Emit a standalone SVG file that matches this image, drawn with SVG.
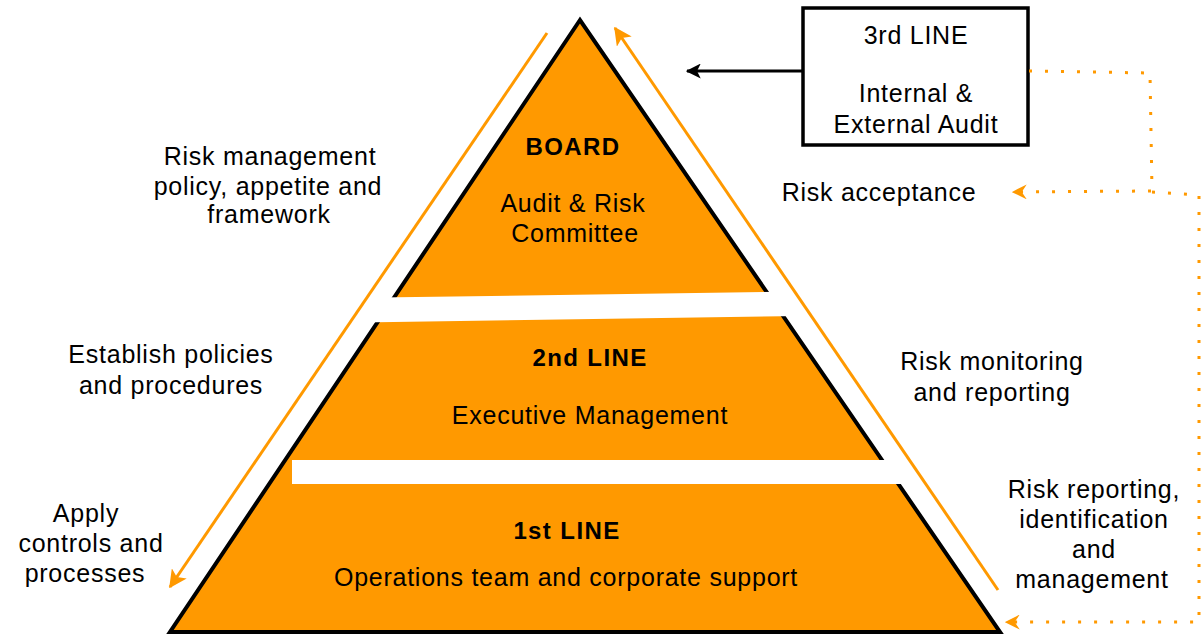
<svg xmlns="http://www.w3.org/2000/svg" width="1201" height="634" viewBox="0 0 1201 634">
<defs>
<style>
text{font-family:"Liberation Sans",Arial,sans-serif;font-size:25px;letter-spacing:0.75px;fill:#000;text-anchor:middle}
.b{font-weight:bold;font-size:24px;letter-spacing:1.4px}
.or{stroke:#FF9900;stroke-width:3;fill:none}
.dot{stroke:#FF9900;stroke-width:3;fill:none;stroke-dasharray:3 13}
</style>
<marker id="ha" viewBox="0 0 12 12" refX="11" refY="6" markerWidth="6" markerHeight="6" orient="auto" markerUnits="strokeWidth">
<path d="M0,0 L12,6 L0,12 L3,6 Z" fill="#FF9900"/>
</marker>
<marker id="hd" viewBox="0 0 12 12" refX="11" refY="6" markerWidth="5" markerHeight="5" orient="auto" markerUnits="strokeWidth">
<path d="M0,0 L12,6 L0,12 L4,6 Z" fill="#FF9900"/>
</marker>
<marker id="hb" viewBox="0 0 12 12" refX="11" refY="6" markerWidth="5" markerHeight="5" orient="auto" markerUnits="strokeWidth">
<path d="M0,0 L12,6 L0,12 L3,6 Z" fill="#000"/>
</marker>
</defs>
<rect width="1201" height="634" fill="#fff"/>
<g id="pyramid">
<polygon points="580,20 170,632 1000,632" fill="#FF9900" stroke="#000" stroke-width="4"/>
<polygon points="360,297.8 800,291.5 800,316 360,322.5" fill="#fff"/>
<rect x="292" y="460" width="610" height="24" fill="#fff"/>
</g>
<g id="board">
<text class="b" x="573" y="155">BOARD</text>
<text x="573" y="212">Audit &amp; Risk</text>
<text x="575" y="242">Committee</text>
</g>
<g id="line2">
<text class="b" x="590" y="366">2nd LINE</text>
<text x="590" y="424">Executive Management</text>
</g>
<g id="line1">
<text class="b" x="567" y="539">1st LINE</text>
<text x="566" y="586">Operations team and corporate support</text>
</g>
<g id="line3">
<rect x="803" y="8" width="225" height="137" fill="#fff" stroke="#000" stroke-width="3.5"/>
<text x="916" y="44">3rd LINE</text>
<text x="916" y="102">Internal &amp;</text>
<text x="916" y="133">External Audit</text>
</g>
<g id="labels">
<text x="270" y="165">Risk management</text>
<text x="268" y="195">policy, appetite and</text>
<text x="269" y="223">framework</text>
<text x="171" y="363">Establish policies</text>
<text x="171" y="394">and procedures</text>
<text x="86" y="522">Apply</text>
<text x="91" y="552">controls and</text>
<text x="85" y="582">processes</text>
<text x="879" y="201">Risk acceptance</text>
<text x="992" y="370">Risk monitoring</text>
<text x="992" y="401">and reporting</text>
<text x="1094" y="498">Risk reporting,</text>
<text x="1094" y="528">identification</text>
<text x="1094" y="558">and</text>
<text x="1092" y="588">management</text>
</g>
<g id="connectors">
<line class="or" x1="547" y1="33" x2="170" y2="587" marker-end="url(#ha)"/>
<line class="or" x1="998" y1="590" x2="615" y2="28" marker-end="url(#ha)"/>
<line x1="803" y1="71" x2="687" y2="71" stroke="#000" stroke-width="3" marker-end="url(#hb)"/>
<path class="dot" d="M1029,71 L1150,73 L1152,191 L1013,192" marker-end="url(#hd)"/>
<path class="dot" d="M1152,192 L1199,195 L1199,622 L1006,622" marker-end="url(#hd)"/>
</g>
</svg>
